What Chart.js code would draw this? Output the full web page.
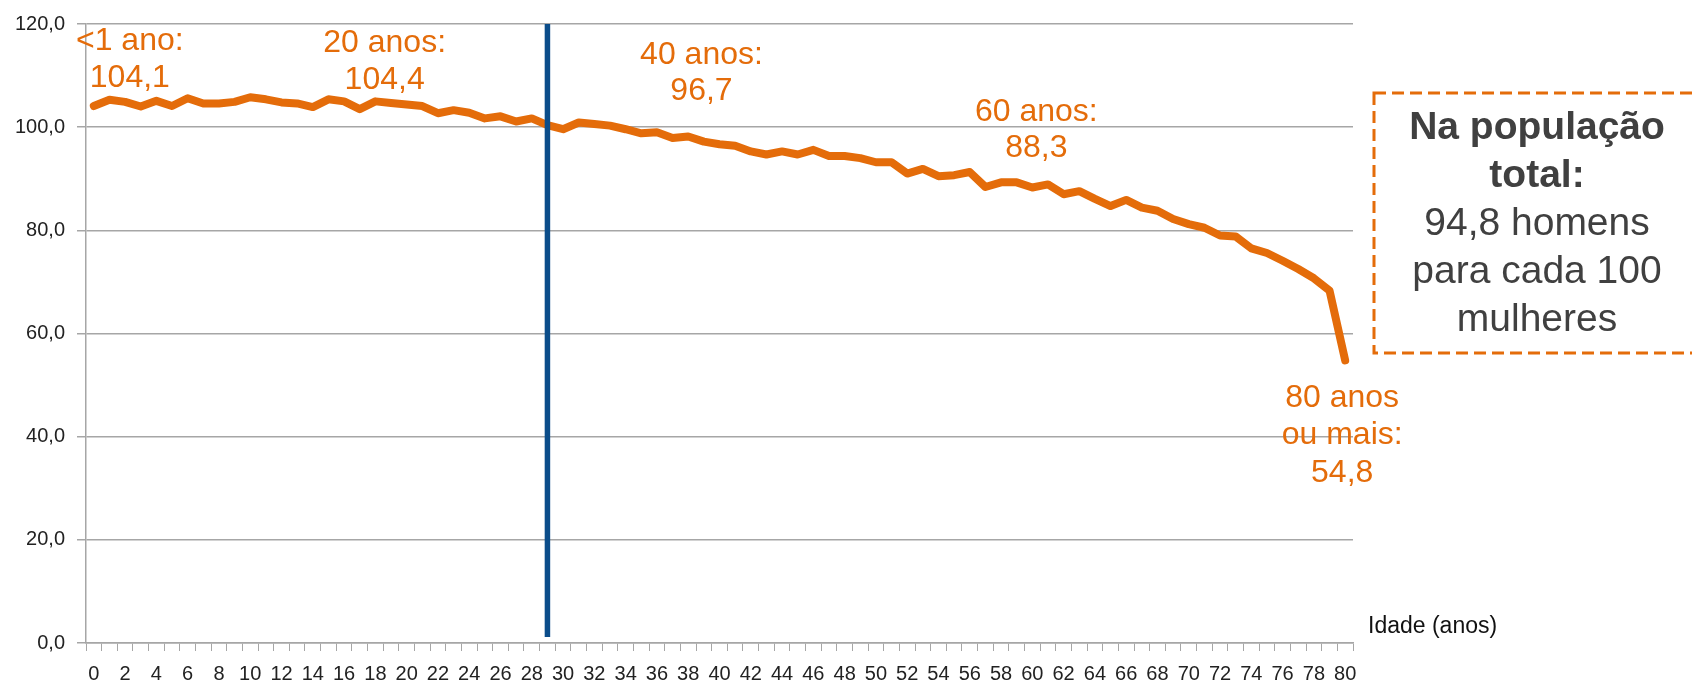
<!DOCTYPE html>
<html>
<head>
<meta charset="utf-8">
<script src="https://cdn.jsdelivr.net/npm/chart.js@4.4.0/dist/chart.umd.min.js"></script>
<style>
  html, body { margin: 0; padding: 0; background: #fff; }
  #wrap { width: 1692px; height: 684px; position: relative; }
</style>
</head>
<body>
<div id="wrap"><canvas id="myChart" width="1692" height="684"></canvas></div>
<script>
// idade (anos)
var ages = [0,1,2,3,4,5,6,7,8,9,10,11,12,13,14,15,16,17,18,19,
            20,21,22,23,24,25,26,27,28,29,30,31,32,33,34,35,36,37,38,39,
            40,41,42,43,44,45,46,47,48,49,50,51,52,53,54,55,56,57,58,59,
            60,61,62,63,64,65,66,67,68,69,70,71,72,73,74,75,76,77,78,79,80];

// razao de sexo (homens para cada 100 mulheres)
var sexRatio = [104.1,105.3,104.9,104.0,105.1,104.1,105.6,104.6,104.6,104.9,
                105.8,105.4,104.8,104.6,103.9,105.4,105.0,103.5,105.0,104.7,
                104.4,104.1,102.7,103.3,102.8,101.7,102.1,101.1,101.7,100.4,
                99.6,100.9,100.6,100.3,99.6,98.8,99.0,97.9,98.2,97.2,
                96.7,96.4,95.3,94.7,95.3,94.7,95.6,94.4,94.4,94.0,
                93.2,93.2,91.0,91.9,90.5,90.7,91.3,88.4,89.3,89.3,
                88.3,88.9,87.0,87.6,86.1,84.7,85.9,84.4,83.8,82.2,
                81.2,80.5,79.0,78.8,76.5,75.6,74.1,72.5,70.7,68.3,54.8];

var yTicks = [0, 20, 40, 60, 80, 100, 120];

// destaques
var calloutAges = [0, 20, 40, 60, 80];
var calloutText = [['<1 ano:', '104,1'], ['20 anos:', '104,4'], ['40 anos:', '96,7'],
                   ['60 anos:', '88,3'], ['80 anos', 'ou mais:', '54,8']];
var markerAge = 29;

var boxLines = ['Na população', 'total:', '94,8 homens', 'para cada 100', 'mulheres'];
var boxBold = [true, true, false, false, false];
var xTitle = 'Idade (anos)';

var orange = '#E46C0A';
var gridColor = '#a6a6a6';
var fontFam = '"Liberation Sans", Arial, sans-serif';

var extras = {
    id: 'extras',
    afterDatasetsDraw: function(chart){
        var c = chart.ctx, x = chart.scales.x;
        // linha vertical
        var vx = x.getPixelForValue(ages.indexOf(markerAge));
        c.save();
        c.strokeStyle = '#0b4d8a';
        c.lineWidth = 5.5;
        c.beginPath();
        c.moveTo(vx, chart.chartArea.top);
        c.lineTo(vx, chart.chartArea.bottom - 6);
        c.stroke();
        c.restore();
    },
    afterDraw: function(chart){
        var c = chart.ctx, x = chart.scales.x, y = chart.scales.y;
        // offsets from the point (px)
        var offs = [[36, [-65, -28]], [-22, [-61, -24]], [-18, [-89, -53]],
                    [4, [-75, -39]], [-3, [38, 75, 113]]];
        c.save();
        c.fillStyle = orange;
        c.font = '32px ' + fontFam;
        c.textAlign = 'center';
        c.textBaseline = 'middle';
        calloutAges.forEach(function(a, i){
            var idx = ages.indexOf(a);
            var px = x.getPixelForValue(idx), py = y.getPixelForValue(sexRatio[idx]);
            calloutText[i].forEach(function(t, j){
                c.fillText(t, px + offs[i][0], py + offs[i][1][j]);
            });
        });
        c.restore();

        // caixa
        c.save();
        c.strokeStyle = orange;
        c.lineWidth = 3;
        c.setLineDash([12, 6]);
        c.strokeRect(1374, 93, 340, 260);
        c.setLineDash([]);
        c.fillStyle = '#404040';
        c.textAlign = 'center';
        c.textBaseline = 'middle';
        boxLines.forEach(function(t, i){
            c.font = (boxBold[i] ? 'bold ' : '') + '39px ' + fontFam;
            c.fillText(t, 1537, 128 + i * 48);
        });
        c.restore();

        // titulo eixo x
        c.save();
        c.fillStyle = '#111';
        c.font = '23px ' + fontFam;
        c.textAlign = 'left';
        c.textBaseline = 'middle';
        c.fillText(xTitle, 1368, 627);
        c.restore();
    }
};

var ctx = document.getElementById('myChart').getContext('2d');
var chart = new Chart(ctx, {
    type: 'line',
    data: {
        labels: ages,
        datasets: [{
            data: sexRatio,
            borderColor: orange,
            borderWidth: 8,
            pointRadius: 0,
            tension: 0,
            borderJoinStyle: 'round',
            borderCapStyle: 'round'
        }]
    },
    options: {
        responsive: false,
        animation: false,
        layout: { padding: { top: 20, right: 339, left: 0, bottom: 0 } },
        plugins: { legend: { display: false }, tooltip: { enabled: false } },
        scales: {
            x: {
                offset: true,
                afterFit: function(s){ s.height = 41; },
                grid: { display: true, drawOnChartArea: false, drawTicks: true, tickLength: 8, offset: true, color: gridColor },
                border: { display: true, color: gridColor, width: 1.5 },
                ticks: {
                    autoSkip: false, maxRotation: 0, padding: 11,
                    color: '#222',
                    font: { family: fontFam, size: 20 },
                    callback: function(v, i){ return ages[i] % 2 === 0 ? String(ages[i]) : ''; }
                }
            },
            y: {
                min: 0, max: 120,
                afterFit: function(s){ s.width = 86; },
                afterBuildTicks: function(s){ s.ticks = yTicks.map(function(v){ return { value: v }; }); },
                grid: { color: gridColor, lineWidth: 1.5, tickLength: 9 },
                border: { display: true, color: gridColor, width: 1.5 },
                ticks: {
                    padding: 12,
                    color: '#222',
                    font: { family: fontFam, size: 20 },
                    callback: function(v){ return v.toFixed(1).replace('.', ','); }
                }
            }
        }
    },
    plugins: [extras]
});
</script>
</body>
</html>
